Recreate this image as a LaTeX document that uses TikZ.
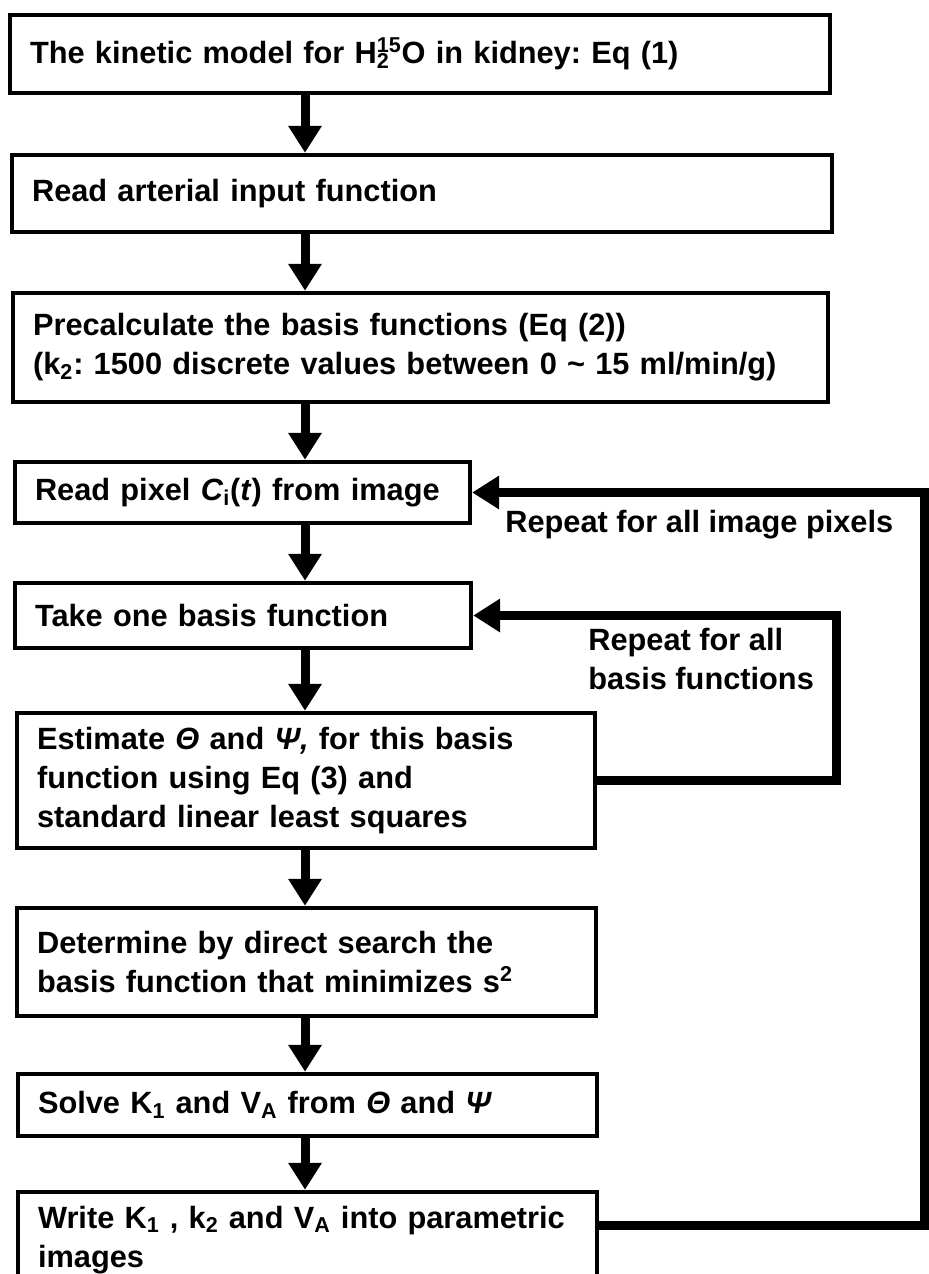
\documentclass[tikz,border=0pt]{standalone}
\usepackage{fontspec}
\setmainfont{Liberation Sans}
\usetikzlibrary{arrows.meta}
\frenchspacing
\hyphenpenalty=10000
\begin{document}
\begin{tikzpicture}[x=0.02cm,y=-0.02cm,
  font=\fontsize{17.5pt}{22.2pt}\selectfont\bfseries,
  box/.style={draw, line width=0.09cm, align=left, inner xsep=0.4cm, inner ysep=0pt},
  flow/.style={line width=0.18cm, -{Triangle[length=0.54cm,width=0.64cm]}},
  backline/.style={flow},
  note/.style={align=left, inner sep=0pt}]
\useasboundingbox (0,0) rectangle (929,1274);
\coordinate (spine) at (305,0);
\node[box, text width=15.6cm, minimum height=1.56cm] (model) at (420,54) {The kinetic model for H\rlap{\textsubscript{2}}\textsuperscript{15}O in kidney: Eq (1)};
\node[box, text width=15.6cm, minimum height=1.54cm] (aif) at (422,193.5) {Read arterial input function};
\node[box, text width=15.5cm, minimum height=2.18cm] (basis) at (420.5,347.5) {Precalculate the basis functions (Eq (2))\\(k\textsubscript{2}: 1500 discrete values between 0 \textasciitilde{} 15 ml/min/g)};
\node[box, text width=8.3cm, minimum height=1.22cm] (pixel) at (242.5,492.5) {Read pixel \textit{C}\textsubscript{i}(\textit{t}) from image};
\node[box, text width=8.32cm, minimum height=1.30cm] (take) at (243,615.5) {Take one basis function};
\node[box, text width=10.76cm, minimum height=2.70cm] (estimate) at (306,780.5) {Estimate \textit{Θ} and \textit{Ψ,} for this basis\\function using Eq (3) and\\standard linear least squares};
\node[box, text width=10.78cm, minimum height=2.16cm] (search) at (306.5,962) {Determine by direct search the\\basis function that minimizes s\textsuperscript{2}};
\node[box, text width=10.78cm, minimum height=1.24cm] (solve) at (307.5,1105) {Solve K\textsubscript{1} and V\textsubscript{A} from \textit{Θ} and \textit{Ψ}};
\node[box, text width=10.78cm, minimum height=1.92cm] (write) at (307.5,1240) {Write K\textsubscript{1} , k\textsubscript{2} and V\textsubscript{A} into parametric\\images};

\node[note, anchor=base west] (pixnote) at (505,532) {Repeat for all image pixels};
\node[note, anchor=base west] (basnote) at (588,689) {Repeat for all\\basis functions};

\draw[flow] (model.south -| spine) -- (aif.north -| spine);
\draw[flow] (aif.south -| spine) -- (basis.north -| spine);
\draw[flow] (basis.south -| spine) -- (pixel.north -| spine);
\draw[flow] (pixel.south -| spine) -- (take.north -| spine);
\draw[flow] (take.south -| spine) -- (estimate.north -| spine);
\draw[flow] (estimate.south -| spine) -- (search.north -| spine);
\draw[flow] (search.south -| spine) -- (solve.north -| spine);
\draw[flow] (solve.south -| spine) -- (write.north -| spine);

\draw[backline] (estimate.east) -- ++(239,0) |- (take.east);
\draw[backline] ([yshift=0.3cm]write.east) -- ++(325,0) |- (pixel.east);
\end{tikzpicture}
\end{document}
